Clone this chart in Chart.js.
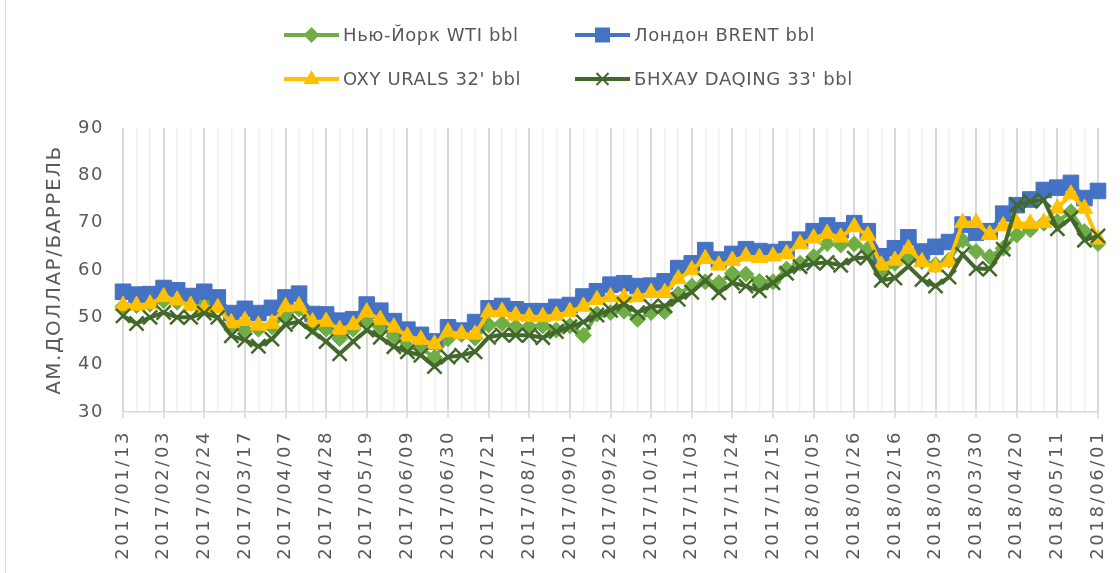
<!DOCTYPE html>
<html lang="ru">
<head>
<meta charset="UTF-8">
<title>Цены на нефть 2017-2018</title>
<script src="https://cdn.jsdelivr.net/npm/chart.js"></script>
<style>
  body { margin: 0; background: #fff; }
  .wrap { position: relative; width: 1120px; height: 573px; }
  .frame { position: absolute; left: 5px; top: 0; width: 1px; height: 573px; background: #d9d9d9; }
</style>
</head>
<body>
<div class="wrap">
  <canvas id="oilChart" width="1120" height="573"></canvas>
  <div class="frame"></div>
</div>
<script>
// weekly dates (Fridays)
const dates = [
  '2017/01/13', '2017/01/20', '2017/01/27', '2017/02/03', '2017/02/10', '2017/02/17', '2017/02/24',
  '2017/03/03', '2017/03/10', '2017/03/17', '2017/03/24', '2017/03/31', '2017/04/07', '2017/04/14',
  '2017/04/21', '2017/04/28', '2017/05/05', '2017/05/12', '2017/05/19', '2017/05/26', '2017/06/02',
  '2017/06/09', '2017/06/16', '2017/06/23', '2017/06/30', '2017/07/07', '2017/07/14', '2017/07/21',
  '2017/07/28', '2017/08/04', '2017/08/11', '2017/08/18', '2017/08/25', '2017/09/01', '2017/09/08',
  '2017/09/15', '2017/09/22', '2017/09/29', '2017/10/06', '2017/10/13', '2017/10/20', '2017/10/27',
  '2017/11/03', '2017/11/10', '2017/11/17', '2017/11/24', '2017/12/01', '2017/12/08', '2017/12/15',
  '2017/12/22', '2017/12/29', '2018/01/05', '2018/01/12', '2018/01/19', '2018/01/26', '2018/02/02',
  '2018/02/09', '2018/02/16', '2018/02/23', '2018/03/02', '2018/03/09', '2018/03/16', '2018/03/23',
  '2018/03/30', '2018/04/06', '2018/04/13', '2018/04/20', '2018/04/27', '2018/05/04', '2018/05/11',
  '2018/05/18', '2018/05/25', '2018/06/01'
];

const wti = [
  52.3, 52.5, 52.8, 53.5, 53.2, 53.0, 53.3, 52.8, 48.2, 47.4, 47.5, 48.0, 50.5, 51.8,
  48.0, 47.5, 45.5, 47.5, 49.1, 48.0, 46.0, 43.8, 43.5, 41.5, 45.5, 46.4, 45.6, 48.4,
  48.7, 48.0, 48.0, 48.2, 47.3, 48.2, 46.2, 50.7, 51.0, 51.3, 49.6, 51.0, 51.2, 54.9,
  56.6, 57.5, 57.3, 59.3, 59.1, 57.6, 57.5, 60.2, 61.4, 62.8, 65.6, 65.3, 65.5, 64.5,
  59.3, 61.4, 62.8, 61.8, 61.1, 62.1, 66.3, 63.9, 62.8, 64.6, 67.4, 68.5, 69.9, 70.2, 72.3, 68.1, 65.6
];

const brent = [
  55.4, 54.8, 54.9, 56.2, 55.7, 54.5, 55.4, 54.2, 50.9, 51.8, 50.9, 52.0, 54.2, 55.0,
  50.7, 50.6, 49.3, 49.6, 52.7, 51.4, 49.2, 47.4, 46.3, 44.9, 47.9, 47.2, 49.0, 51.9,
  52.4, 51.7, 51.3, 51.3, 52.2, 52.6, 54.4, 55.5, 56.9, 57.2, 56.6, 56.7, 57.6, 60.4,
  61.4, 64.2, 62.2, 63.4, 64.4, 64.0, 63.8, 64.4, 66.4, 68.2, 69.4, 68.4, 69.9, 68.2,
  62.9, 64.6, 66.9, 63.9, 64.9, 65.9, 69.6, 67.9, 68.2, 71.9, 73.7, 74.9, 76.9, 77.4, 78.4, 75.2, 76.7
];

const urals = [
  52.5, 52.5, 52.8, 54.3, 53.6, 52.5, 51.8, 52.0, 48.8, 49.3, 48.3, 48.7, 52.2, 52.4,
  49.0, 49.1, 47.4, 48.4, 51.1, 49.5, 47.9, 46.0, 45.3, 44.3, 46.9, 46.5, 46.4, 51.1,
  51.2, 50.4, 50.1, 50.1, 50.4, 51.2, 52.3, 53.7, 54.3, 54.2, 54.3, 55.2, 55.2, 58.1,
  60.0, 62.4, 61.0, 62.0, 62.9, 62.6, 62.9, 63.4, 65.5, 66.7, 67.7, 66.9, 69.1, 67.3,
  61.0, 62.0, 64.5, 61.7, 60.6, 61.7, 70.0, 70.0, 67.5, 69.3, 69.8, 69.8, 70.0, 73.0, 76.0, 73.0, 66.5
];

const daqing = [
  50.3, 48.7, 50.0, 51.0, 50.0, 50.0, 50.9, 50.0, 46.1, 45.2, 43.9, 45.4, 48.5, 49.1,
  47.0, 44.9, 42.3, 44.9, 47.3, 45.8, 43.8, 42.7, 42.0, 39.6, 41.6, 42.0, 42.7, 45.8,
  46.3, 46.2, 46.2, 45.7, 47.0, 48.0, 49.0, 50.5, 51.5, 52.8, 51.0, 52.3, 52.4, 53.8,
  55.3, 57.8, 55.2, 57.3, 56.6, 55.6, 57.3, 59.3, 60.7, 61.4, 61.6, 61.0, 62.5, 62.7,
  57.8, 58.3, 60.8, 58.0, 56.6, 58.5, 63.3, 60.3, 60.2, 64.4, 73.8, 74.5, 74.8, 68.7, 71.0, 66.3, 67.2
];

const seriesNames = ['Нью-Йорк WTI bbl', 'Лондон BRENT bbl', "OXY URALS 32' bbl", "БНХАУ DAQING 33' bbl"];
const yTitle = 'АМ.ДОЛЛАР/БАРРЕЛЬ';

const FONT = 'DejaVu Sans';
const GREY = '#595959';

function series(label, data, color, style, radius, order) {
  return {
    label: label,
    data: data,
    borderColor: color,
    backgroundColor: color,
    borderWidth: 4,
    tension: 0,
    pointStyle: style,
    pointRadius: radius,
    pointHoverRadius: radius,
    pointBorderWidth: style === 'crossRot' ? 2.5 : 1,
    order: order,
    clip: false
  };
}

// little legend in the Excel style: line with the marker on it, two columns
const legendSpots = [
  { x: 284, y: 35 }, { x: 575, y: 35 },
  { x: 284, y: 79 }, { x: 575, y: 79 }
];

function legendMarker(ctx, style, x, y, color) {
  ctx.fillStyle = color;
  ctx.strokeStyle = color;
  ctx.beginPath();
  if (style === 'rectRot') {
    ctx.moveTo(x, y - 8); ctx.lineTo(x + 8, y); ctx.lineTo(x, y + 8); ctx.lineTo(x - 8, y);
    ctx.closePath(); ctx.fill();
  } else if (style === 'rect') {
    ctx.rect(x - 7.5, y - 7.5, 15, 15); ctx.fill();
  } else if (style === 'triangle') {
    ctx.moveTo(x, y - 9); ctx.lineTo(x + 8, y + 5); ctx.lineTo(x - 8, y + 5);
    ctx.closePath(); ctx.fill();
  } else {
    ctx.lineWidth = 2;
    ctx.moveTo(x - 6, y - 6); ctx.lineTo(x + 6, y + 6);
    ctx.moveTo(x + 6, y - 6); ctx.lineTo(x - 6, y + 6);
    ctx.stroke();
  }
}

const excelLegend = {
  id: 'excelLegend',
  afterDraw(chart) {
    const ctx = chart.ctx;
    ctx.save();
    ctx.font = '18px "' + FONT + '"';
    ctx.letterSpacing = '0.6px';
    ctx.textBaseline = 'middle';
    ctx.textAlign = 'left';
    chart.data.datasets.forEach((ds, i) => {
      const p = legendSpots[i];
      ctx.lineWidth = 4;
      ctx.strokeStyle = ds.borderColor;
      ctx.beginPath();
      ctx.moveTo(p.x, p.y);
      ctx.lineTo(p.x + 55, p.y);
      ctx.stroke();
      legendMarker(ctx, ds.pointStyle, p.x + 27.5, p.y, ds.borderColor);
      ctx.fillStyle = GREY;
      ctx.fillText(ds.label, p.x + 59, p.y + 1);
    });
    ctx.restore();
  }
};

// Excel spreads the axis text out a bit; date labels sit on a layer after the datasets
const spacedText = {
  id: 'spacedText',
  beforeDraw(chart) { chart.ctx.letterSpacing = '1.5px'; },
  afterDatasetsDraw(chart) { chart.ctx.letterSpacing = '2.6px'; },
  afterDraw(chart) { chart.ctx.letterSpacing = '0px'; }
};

const ctx = document.getElementById('oilChart').getContext('2d');
new Chart(ctx, {
  type: 'line',
  data: {
    labels: dates,
    datasets: [
      series(seriesNames[0], wti, '#70ad47', 'rectRot', 8, 4),
      series(seriesNames[1], brent, '#4472c4', 'rect', 11, 3),
      series(seriesNames[2], urals, '#ffc000', 'triangle', 9.5, 2),
      series(seriesNames[3], daqing, '#43682b', 'crossRot', 10, 1)
    ]
  },
  options: {
    responsive: false,
    animation: false,
    events: [],
    layout: { padding: { top: 128, right: 22, bottom: 0, left: 0 } },
    plugins: {
      legend: { display: false },
      tooltip: { enabled: false }
    },
    scales: {
      x: {
        offset: false,
        grid: {
          color: c => c.index % 3 === 0 ? '#d9d9d9' : '#f0f0f0',
          lineWidth: c => c.index % 3 === 0 ? 2 : 1.5,
          tickLength: 6,
          tickWidth: 1.5,
          tickColor: c => c.index % 3 === 0 ? '#d9d9d9' : 'rgba(0,0,0,0)'
        },
        border: { color: '#d9d9d9', width: 1.5 },
        ticks: {
          autoSkip: false,
          minRotation: 90,
          maxRotation: 90,
          padding: 12,
          z: 1,
          color: GREY,
          font: { family: FONT, size: 18 },
          callback: (v, i) => i % 3 === 0 ? dates[i] : ''
        },
        afterFit: s => {
          s.height = 161;
          s.paddingLeft = 0;
          s.paddingRight = 0;
        }
      },
      y: {
        min: 30,
        max: 90,
        grid: { display: false, drawTicks: false },
        border: { display: false },
        ticks: {
          stepSize: 10,
          padding: 19,
          color: GREY,
          font: { family: FONT, size: 18 }
        },
        title: {
          display: true,
          text: yTitle,
          color: GREY,
          font: { family: FONT, size: 20 },
          padding: { top: 43, bottom: 0 }
        },
        afterFit: s => { s.width = 123; }
      }
    }
  },
  plugins: [spacedText, excelLegend]
});
</script>
</body>
</html>
